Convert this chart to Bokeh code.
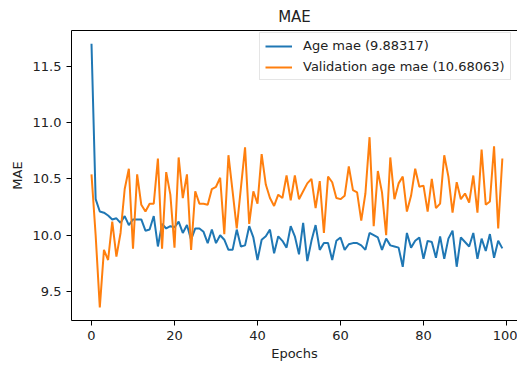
from bokeh.plotting import figure
from bokeh.models import (Range1d, FixedTicker, LinearAxis, Legend, LegendItem,
                          NumeralTickFormatter)
from bokeh.embed import file_html
from bokeh.resources import INLINE

# Training history: mean absolute error per epoch
epochs = list(range(100))

age_mae = [
    11.70, 10.32, 10.21, 10.20, 10.175, 10.14, 10.15, 10.11, 10.17, 10.09,
    10.14, 10.14, 10.14, 10.04, 10.05, 10.17, 9.90, 10.10, 10.06, 10.08,
    10.07, 10.12, 10.02, 10.09, 9.96, 10.06, 10.06, 10.03, 9.93, 10.05,
    9.93, 10.00, 9.96, 9.87, 9.87, 10.05, 9.90, 9.91, 10.08, 9.98,
    9.78, 9.96, 9.99, 10.05, 9.84, 9.99, 9.95, 9.89, 10.08, 9.99,
    9.83, 10.11, 9.77, 9.95, 10.09, 9.87, 9.93, 9.93, 9.78, 9.95,
    9.98, 9.87, 9.92, 9.93, 9.93, 9.91, 9.87, 10.02, 10.00, 9.98,
    9.87, 9.97, 9.91, 9.90, 9.89, 9.72, 10.02, 9.89, 9.95, 9.98,
    9.79, 9.95, 9.94, 9.80, 9.99, 9.79, 9.97, 10.04, 9.72, 9.98,
    9.94, 9.90, 10.02, 9.79, 9.97, 9.86, 10.01, 9.80, 9.95, 9.88317,
]

val_age_mae = [
    10.54, 10.00, 9.36, 9.87, 9.78, 10.12, 9.81, 10.02, 10.41, 10.59,
    9.88, 10.54, 10.27, 10.21, 10.28, 10.28, 10.68, 9.88, 10.56, 10.36,
    9.89, 10.69, 10.33, 10.54, 9.87, 10.39, 10.28, 10.28, 10.27, 10.41,
    10.43, 10.51, 10.01, 10.71, 10.39, 10.06, 10.42, 10.78, 10.10, 10.39,
    10.28, 10.72, 10.45, 10.33, 10.26, 10.36, 10.33, 10.53, 10.31, 10.53,
    10.32, 10.39, 10.46, 10.50, 10.24, 10.48, 10.02, 10.52, 10.47, 10.33,
    10.32, 10.35, 10.61, 10.40, 10.38, 10.13, 10.37, 10.87, 10.08, 10.57,
    10.38, 10.00, 10.69, 10.32, 10.46, 10.52, 10.21, 10.35, 10.59, 10.43,
    10.44, 10.21, 10.50, 10.24, 10.28, 10.71, 10.52, 10.20, 10.47, 10.32,
    10.37, 10.29, 10.53, 10.20, 10.76, 10.27, 10.30, 10.79, 10.06, 10.68063,
]

x_ticks = [0, 20, 40, 60, 80, 100]
y_ticks = [9.5, 10.0, 10.5, 11.0, 11.5]

FONT = "DejaVu Sans"
TEXT = "#222222"

p = figure(
    width=517, height=369,
    output_backend="svg", toolbar_location=None,
    x_range=Range1d(-4.82, 102.65), y_range=Range1d(9.243, 11.817),
    min_border_left=71, min_border_right=0, min_border_top=28, min_border_bottom=49,
    outline_line_color=None,
)
p.grid.visible = False

p.title.text = "MAE"
p.title.align = "center"
p.title.text_font = FONT
p.title.text_font_size = "15px"
p.title.text_font_style = "normal"
p.title.text_color = TEXT

train_line = p.line(epochs, age_mae, line_color="#1f77b4", line_width=2)
val_line = p.line(epochs, val_age_mae, line_color="#ff7f0e", line_width=2)

for ax in (p.xaxis[0], p.yaxis[0]):
    ax.axis_line_color = "black"
    ax.axis_line_width = 1
    ax.major_tick_line_color = "black"
    ax.major_tick_out = 5
    ax.major_tick_in = 0
    ax.minor_tick_line_color = None
    ax.major_label_text_font = FONT
    ax.major_label_text_font_size = "13px"
    ax.major_label_text_color = TEXT
    ax.axis_label_text_font = FONT
    ax.axis_label_text_font_size = "13px"
    ax.axis_label_text_font_style = "normal"
    ax.axis_label_text_color = TEXT

p.xaxis.ticker = FixedTicker(ticks=x_ticks)
p.xaxis.axis_label = "Epochs"
p.xaxis.major_label_standoff = 5
p.xaxis.axis_label_standoff = 3

p.yaxis.ticker = FixedTicker(ticks=y_ticks)
p.yaxis.formatter = NumeralTickFormatter(format="0.0")
p.yaxis.axis_label = "MAE"
p.yaxis.major_label_standoff = 5
p.yaxis.axis_label_standoff = 5

# top spine
top = LinearAxis(ticker=FixedTicker(ticks=[]), axis_line_color="black",
                 major_tick_line_color=None, minor_tick_line_color=None,
                 major_label_text_font_size="0px")
p.add_layout(top, "above")

legend = Legend(
    items=[
        LegendItem(label=f"Age mae ({age_mae[-1]:.5f})", renderers=[train_line]),
        LegendItem(label=f"Validation age mae ({val_age_mae[-1]:.5f})", renderers=[val_line]),
    ],
    location=(188, 240),
    label_text_font=FONT, label_text_font_size="13px", label_text_color=TEXT,
    glyph_width=27, glyph_height=14, label_height=14, label_standoff=11,
    spacing=6, padding=5, margin=0,
    border_line_color="#cccccc", border_line_width=1,
    background_fill_color="white", background_fill_alpha=0.8,
)
p.add_layout(legend)

open("out.html", "w").write(file_html(p, INLINE))
